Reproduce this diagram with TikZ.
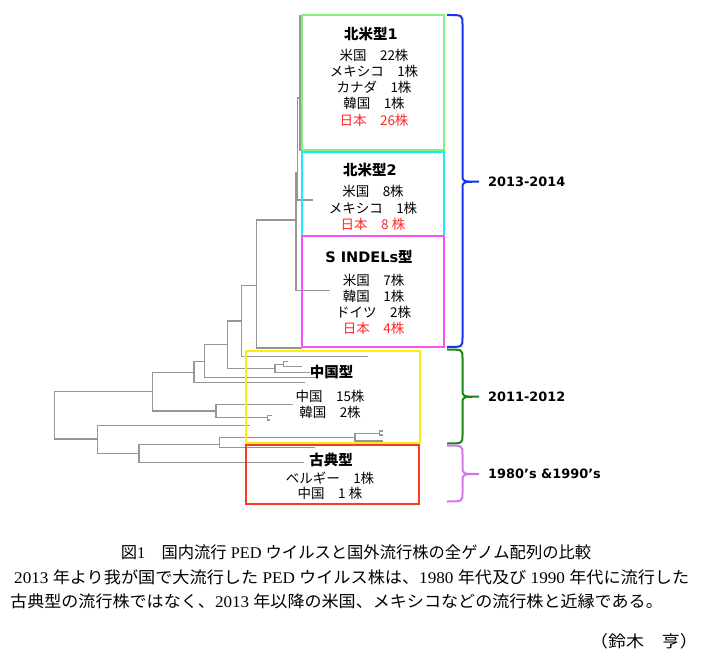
\documentclass[tikz,border=0pt]{standalone}
\usepackage{fontspec}
\setmainfont{Liberation Serif}
\newfontfamily\jpfont{Noto Sans CJK JP}
\newfontfamily\vfont{DejaVu Sans}
\usetikzlibrary{positioning}

\definecolor{treegray}{RGB}{150,150,150}
\definecolor{boxgreen}{RGB}{125,245,125}
\definecolor{boxcyan}{RGB}{30,235,245}
\definecolor{boxpink}{RGB}{250,80,250}
\definecolor{boxyellow}{RGB}{255,235,20}
\definecolor{boxred}{RGB}{245,60,30}
\definecolor{jpred}{RGB}{255,40,40}
\definecolor{braceblue}{RGB}{20,50,240}
\definecolor{bracegreen}{RGB}{20,135,20}
\definecolor{braceviolet}{RGB}{210,120,230}

\begin{document}
\begin{tikzpicture}[x=1pt,y=-1pt,
  tree/.style={draw=treegray, line width=1.2pt},
  grpbox/.style={draw, line width=2pt, inner sep=0pt},
  grptitle/.style={font=\jpfont\fontsize{14.5}{17}\selectfont\bfseries},
  grplist/.style={align=center, font=\jpfont\fontsize{13.5}{16.2}\selectfont},
  yearlab/.style={anchor=west, inner sep=0pt, font=\vfont\bfseries\fontsize{12.9}{15}\selectfont},
  brc/.style={line width=2pt},
  captext/.style={inner sep=0pt, font=\fontsize{16.3}{20}\selectfont}]

\useasboundingbox (0,0) rectangle (705,663);

% tree, root side
\draw[tree] (152.7,391.7) -- (54.7,391.7) -- (54.7,439) -- (97.7,439);
\draw[tree] (194,372.3) -- (152.7,372.3) -- (152.7,411) -- (216,411);
\draw[tree] (204.3,361.3) -- (194,361.3) -- (194,382.7) -- (305,382.7);
\draw[tree] (227.5,344.5) -- (204.3,344.5) -- (204.3,377.5) -- (318,377.5);
\draw[tree] (241.3,321) -- (227.5,321) -- (227.5,368.3) -- (275,368.3);
\draw[tree] (256.7,285.5) -- (241.3,285.5) -- (241.3,356.5) -- (368,356.5);
\draw[tree] (296,220) -- (256.7,220) -- (256.7,348) -- (302,348);
% tree, 2013-2014 clade
\draw[tree] (297.5,173) -- (296,173) -- (296,290.7) -- (330,290.7);
\draw[tree] (300,98) -- (297.5,98) -- (297.5,200) -- (313,200);
\draw[tree] (303,16) -- (300,16) -- (300,150) -- (303,150);
% tree, small clades
\draw[tree] (283.3,364.3) -- (275,364.3) -- (275,372.3) -- (310,372.3);
\draw[tree] (288.3,361.7) -- (283.3,361.7) -- (283.3,366.7) -- (301.7,366.7);
\draw[tree] (293.3,404.3) -- (216,404.3) -- (216,417.7) -- (267.3,417.7);
\draw[tree] (271.7,415.7) -- (267.3,415.7) -- (267.3,420) -- (270,420);
% tree, lower part
\draw[tree] (250,425.7) -- (97.7,425.7) -- (97.7,453.3) -- (139,453.3);
\draw[tree] (219.3,444.3) -- (139,444.3) -- (139,462.7) -- (304,462.7);
\draw[tree] (355,437.7) -- (219.3,437.7) -- (219.3,447.7) -- (315,447.7);
\draw[tree] (379.3,433.3) -- (355,433.3) -- (355,441) -- (383.3,441);
\draw[tree] (383.3,431) -- (379.3,431) -- (379.3,435) -- (383.3,435);

% boxes
\node[grpbox, draw=boxgreen, minimum width=142pt, minimum height=135pt] (na1box) at (373,82.5) {};
\node[grpbox, draw=boxcyan, minimum width=142pt, minimum height=83.4pt] (na2box) at (373,194) {};
\node[grpbox, draw=boxpink, minimum width=142pt, minimum height=111.3pt] (sindbox) at (373,291.6) {};
\node[grpbox, draw=boxyellow, minimum width=174.3pt, minimum height=92.6pt] (chbox) at (332.8,397) {};
\node[grpbox, draw=boxred, minimum width=173.6pt, minimum height=59.3pt] (clbox) at (332.5,474.6) {};

% box texts
\node[grptitle] (na1title) at (371,33.5) {北米型{\vfont 1}};
\node[grplist] (na1list) at (374,87.5) {米国　22株\\メキシコ　1株\\カナダ　1株\\韓国　1株\\\textcolor{jpred}{日本　26株}};
\node[grptitle] (na2title) at (370,170) {北米型{\vfont 2}};
\node[grplist] (na2list) at (373,208) {米国　8株\\メキシコ　1株\\\textcolor{jpred}{日本　8 株}};
\node[grptitle] (sindtitle) at (369,256.7) {{\vfont S INDELs}型};
\node[grplist] (sindlist) at (373.7,304.2) {米国　7株\\韓国　1株\\ドイツ　2株\\\textcolor{jpred}{日本　4株}};
\node[grptitle] (chtitle) at (331.7,371.7) {中国型};
\node[grplist] (chlist) at (330,404.7) {中国　15株\\韓国　2株};
\node[grptitle] (cltitle) at (331,460) {古典型};
\node[grplist, font=\jpfont\fontsize{13.5}{15}\selectfont] (cllist) at (330,485.8) {ベルギー　1株\\中国　1 株};

% braces
\draw[brc, draw=braceblue] (447,15) .. controls (462.5,15) .. (462.5,24) -- (462.5,175) .. controls (462.5,181.7) .. (479,181.7) .. controls (462.5,181.7) .. (462.5,188.5) -- (462.5,338) .. controls (462.5,347) .. (447,347);
\draw[brc, draw=bracegreen] (447,349.5) .. controls (462.5,349.5) .. (462.5,358) -- (462.5,390) .. controls (462.5,396.7) .. (479,396.7) .. controls (462.5,396.7) .. (462.5,403.5) -- (462.5,435) .. controls (462.5,443.5) .. (447,443.5);
\draw[brc, draw=braceviolet] (447,445.5) .. controls (462.5,445.5) .. (462.5,454) -- (462.5,467) .. controls (462.5,474) .. (479,474) .. controls (462.5,474) .. (462.5,481) -- (462.5,493) .. controls (462.5,501.5) .. (447,501.5);

\node[yearlab] (y1314) at (488,182) {2013-2014};
\node[yearlab] (y1112) at (488,397) {2011-2012};
\node[yearlab] (y8090) at (488,474) {1980’s \&1990’s};

% caption
\node[captext] (cap1) at (356,552) {{\jpfont 図}1{\jpfont 　国内流行} PED {\jpfont ウイルスと国外流行株の全ゲノム配列の比較}};
\node[captext, anchor=west, xscale=1.052, transform shape] (cap2) at (14,577) {2013 {\jpfont 年より我が国で大流行した} PED {\jpfont ウイルス株は、}1980 {\jpfont 年代及び} 1990 {\jpfont 年代に流行した}};
\node[captext, anchor=west, xscale=1.047, transform shape] (cap3) at (10,601) {{\jpfont 古典型の流行株ではなく、}2013 {\jpfont 年以降の米国、メキシコなどの流行株と近縁である。}};
\node[captext, anchor=east, xscale=1.1, transform shape] (cap4) at (698,641) {{\jpfont （鈴木　亨）}};
\end{tikzpicture}
\end{document}
